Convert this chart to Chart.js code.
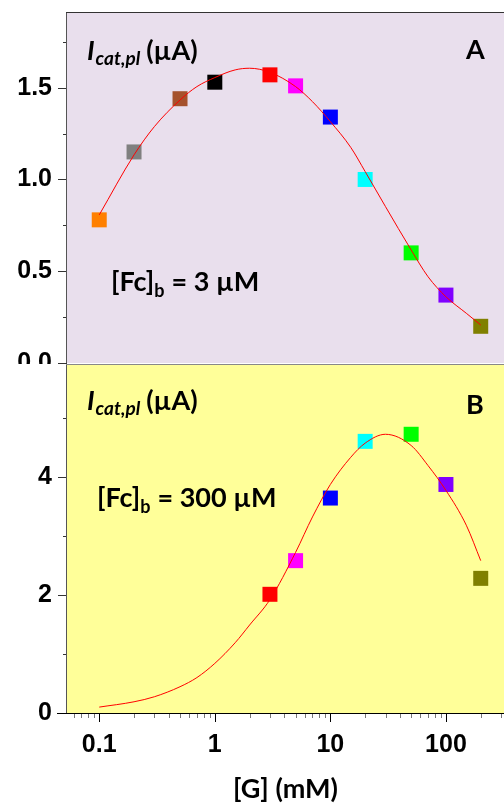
<!DOCTYPE html>
<html>
<head>
<meta charset="utf-8">
<script src="https://cdn.jsdelivr.net/npm/chart.js@4.4.1/dist/chart.umd.min.js"></script>
<style>
    html, body { margin: 0; padding: 0; background: #fff; }
    #wrap { position: relative; width: 504px; height: 805px; overflow: hidden; }
    #boxA { position: absolute; left: 0; top: 0; width: 504px; height: 364px; }
    #boxB { position: absolute; left: 0; top: 364px; width: 504px; height: 441px; }
</style>
</head>
<body>
<div id="wrap">
    <div id="boxA"><canvas id="graphique_a"></canvas></div>
    <div id="boxB"><canvas id="graphique_b"></canvas></div>
</div>
<script>
// [G] en mM
const concentrations = [0.1, 0.2, 0.5, 1, 3, 5, 10, 20, 50, 100, 200];
const couleurs = ['#ff8000', '#808080', '#a5522d', '#000000', '#ff0000', '#ff00ff', '#0000ff', '#00ffff', '#00ff00', '#8000ff', '#808000'];
// panneau A : [Fc]b = 3 µM
const courant_a = [0.78, 1.15, 1.44, 1.53, 1.57, 1.51, 1.34, 1.00, 0.60, 0.37, 0.20];
// panneau B : [Fc]b = 300 µM
const concentrations_b = [3, 5, 10, 20, 50, 100, 200];
const couleurs_b = ['#ff0000', '#ff00ff', '#0000ff', '#00ffff', '#00ff00', '#8000ff', '#808000'];
const courant_b = [2.01, 2.58, 3.64, 4.60, 4.72, 3.87, 2.28];
// courbes ajustées
const fit_x = [0.1, 0.2, 0.3, 0.5, 0.7, 1, 1.5, 2, 3, 5, 7, 10, 15, 20, 30, 50, 70, 100, 150, 200];
const fit_a = [0.807, 1.134, 1.288, 1.433, 1.506, 1.555, 1.597, 1.606, 1.584, 1.506, 1.424, 1.315, 1.175, 1.043, 0.852, 0.616, 0.47, 0.361, 0.271, 0.207];
const fit_b = [0.10, 0.19, 0.275, 0.445, 0.60, 0.84, 1.19, 1.49, 1.92, 2.72, 3.32, 3.87, 4.33, 4.57, 4.72, 4.53, 4.19, 3.77, 3.18, 2.58];
// graduations
const graduations_x = ['0.1', '1', '10', '100'];
const graduations_a = ['0.0', '0.5', '1.0', '1.5'];
const graduations_b = ['0', '2', '4'];

const X_MIN = 0.0526, X_MAX = 318;
const POLICE_TICK = { family: 'Liberation Sans', weight: 'bold', size: 25 };

function ticksLog() {
    let t = [];
    [0.01, 0.1, 1, 10, 100].forEach(d => {
        for (let k = 1; k <= 9; k++) {
            const v = +(k * d).toPrecision(3);
            if (v >= X_MIN && v <= X_MAX) t.push({ value: v, major: k === 1 });
        }
    });
    return t;
}

function label(liste, v) {
    return liste.find(l => Math.abs(parseFloat(l) - v) < 1e-6) || '';
}

function ecrire(ctx, x, y, morceaux) {
    let cx = x;
    morceaux.forEach(m => {
        ctx.font = m.police;
        ctx.fillText(m.t, cx, y + (m.dy || 0));
        cx += ctx.measureText(m.t).width + (m.dx || 0);
    });
}

const cadre = {
    id: 'cadre',
    beforeDraw(chart, args, opts) {
        const { ctx, chartArea: a } = chart;
        ctx.save();
        ctx.fillStyle = opts.fond;
        ctx.fillRect(a.left, a.top, a.right - a.left, a.bottom - a.top);
        ctx.restore();
    },
    afterDraw(chart, args, opts) {
        const { ctx, chartArea: a } = chart;
        ctx.save();
        // graduations y
        const sy = chart.scales.y;
        ctx.strokeStyle = '#333';
        ctx.lineWidth = 1;
        sy.ticks.forEach(t => {
            const y = Math.round(sy.getPixelForValue(t.value)) + 0.5;
            const len = t.label === '' ? 4 : 9;
            ctx.beginPath();
            ctx.moveTo(a.left - len, y);
            ctx.lineTo(a.left, y);
            ctx.stroke();
        });
        // graduations x
        const sx = chart.scales.x;
        if (sx.options.display) {
            sx.ticks.forEach(t => {
                const x = Math.round(sx.getPixelForValue(t.value)) + 0.5;
                const len = t.major ? 9 : 5;
                ctx.strokeStyle = t.major ? '#000' : '#777';
                ctx.beginPath();
                ctx.moveTo(x, a.bottom);
                ctx.lineTo(x, a.bottom + len);
                ctx.stroke();
            });
            ctx.strokeStyle = '#000';
            ctx.beginPath();
            ctx.moveTo(a.left - 10, a.bottom + 0.5);
            ctx.lineTo(a.right, a.bottom + 0.5);
            ctx.stroke();
        }
        // bordures
        ctx.strokeStyle = '#555';
        ctx.beginPath();
        ctx.moveTo(a.left - 0.5, a.top);
        ctx.lineTo(a.left - 0.5, a.bottom);
        ctx.stroke();
        ctx.strokeStyle = opts.hautCouleur;
        ctx.lineWidth = opts.hautLargeur;
        ctx.beginPath();
        ctx.moveTo(a.left - 1, a.top + opts.hautLargeur / 2 - (opts.hautDecal || 0));
        ctx.lineTo(a.right, a.top + opts.hautLargeur / 2 - (opts.hautDecal || 0));
        ctx.stroke();
        // textes
        ctx.fillStyle = '#000';
        ctx.textBaseline = 'alphabetic';
        opts.textes.forEach(tx => ecrire(ctx, tx.x, tx.y, tx.morceaux));
        ctx.restore();
    }
};

function titreI(x, y) {
    return {
        x: x, y: y, morceaux: [
            { t: 'I', police: 'italic bold 27px Lato', dx: 1 },
            { t: 'cat,pl', police: 'italic bold 19px Lato', dy: 5, dx: 6 },
            { t: '(µA)', police: 'bold 27px Lato' }
        ]
    };
}

function fcb(x, y, valeur) {
    return {
        x: x, y: y, morceaux: [
            { t: '[Fc]', police: 'bold 27px Lato' },
            { t: 'b', police: 'bold 18px Lato', dy: 6, dx: 7 },
            { t: '= ' + valeur + ' µM', police: 'bold 27px Lato' }
        ]
    };
}

function optionsY(max, pas, liste) {
    return {
        min: 0,
        max: max,
        afterFit: s => { s.width = 67; s.paddingTop = 0; s.paddingBottom = 0; },
        border: { display: false },
        grid: { display: false, drawTicks: false },
        ticks: {
            stepSize: pas,
            includeBounds: false,
            autoSkip: false,
            padding: 15,
            color: '#000',
            font: POLICE_TICK,
            callback: v => label(liste, v)
        }
    };
}

function jeux(xs, ys, cs, fy) {
    return [{
        data: fit_x.map((x, i) => ({ x: x, y: fy[i] })),
        showLine: true,
        borderColor: '#ff0000',
        borderWidth: 1,
        pointRadius: 0,
        cubicInterpolationMode: 'monotone',
        order: 0
    }, {
        data: xs.map((x, i) => ({ x: x, y: ys[i] })),
        pointStyle: 'rect',
        pointRadius: 10.6,
        pointBorderWidth: 0,
        pointBackgroundColor: cs,
        order: 1
    }];
}

let graphique_a = new Chart(document.getElementById('graphique_a').getContext('2d'), {
    type: 'scatter',
    data: { datasets: jeux(concentrations, courant_a, couleurs, fit_a) },
    options: {
        animation: false,
        responsive: true,
        maintainAspectRatio: false,
        layout: { autoPadding: false, padding: { top: 13, bottom: 1, left: 0, right: 0 } },
        plugins: {
            legend: { display: false },
            tooltip: { enabled: false },
            cadre: {
                fond: '#e9dfed',
                hautCouleur: '#333',
                hautLargeur: 1,
                hautDecal: 1,
                textes: [
                    titreI(87, 60),
                    { x: 466, y: 59, morceaux: [{ t: 'A', police: 'bold 27px Lato' }] },
                    fcb(111, 291, '3')
                ]
            }
        },
        scales: {
            x: { type: 'logarithmic', display: false, min: X_MIN, max: X_MAX },
            y: optionsY(1.907, 0.25, graduations_a)
        }
    },
    plugins: [cadre]
});

let graphique_b = new Chart(document.getElementById('graphique_b').getContext('2d'), {
    type: 'scatter',
    data: { datasets: jeux(concentrations_b, courant_b, couleurs_b, fit_b) },
    options: {
        animation: false,
        responsive: true,
        maintainAspectRatio: false,
        layout: { autoPadding: false, padding: 0 },
        plugins: {
            legend: { display: false },
            tooltip: { enabled: false },
            cadre: {
                fond: '#ffff99',
                hautCouleur: '#888',
                hautLargeur: 2,
                hautDecal: 1,
                textes: [
                    titreI(87, 46),
                    { x: 466, y: 50, morceaux: [{ t: 'B', police: 'bold 27px Lato' }] },
                    fcb(97, 143, '300')
                ]
            }
        },
        scales: {
            x: {
                type: 'logarithmic',
                min: X_MIN,
                max: X_MAX,
                afterBuildTicks: s => { s.ticks = ticksLog(); },
                afterFit: s => { s.height = 92; s.paddingLeft = 0; s.paddingRight = 0; },
                border: { display: false },
                grid: { display: false, drawTicks: false },
                ticks: {
                    autoSkip: false,
                    maxRotation: 0,
                    padding: 17,
                    color: '#000',
                    font: POLICE_TICK,
                    callback: v => label(graduations_x, v)
                },
                title: {
                    display: true,
                    text: '[G] (mM)',
                    color: '#000',
                    font: { family: 'Lato', weight: 'bold', size: 27 },
                    padding: { top: 0, bottom: 0 }
                }
            },
            y: optionsY(5.91, 1, graduations_b)
        }
    },
    plugins: [cadre]
});
</script>
</body>
</html>
